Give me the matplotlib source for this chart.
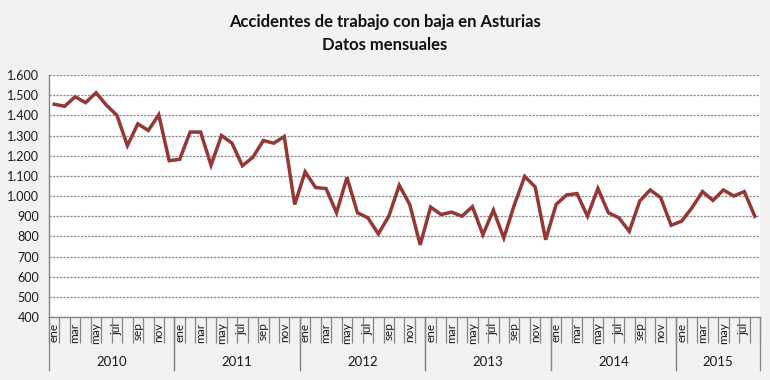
import matplotlib
matplotlib.use("Agg")
import matplotlib.pyplot as plt
import matplotlib.transforms as mtransforms
from matplotlib.ticker import FixedLocator, FuncFormatter
import numpy as np

# monthly values, ene 2010 .. ago 2015
years = ["2010", "2011", "2012", "2013", "2014", "2015"]
month_names = ["ene", "feb", "mar", "abr", "may", "jun",
               "jul", "ago", "sep", "oct", "nov", "dic"]
months_per_year = [12, 12, 12, 12, 12, 8]

v2010 = [1455, 1445, 1492, 1463, 1512, 1450, 1400, 1250, 1358, 1325, 1403, 1175]
v2011 = [1182, 1317, 1317, 1153, 1300, 1262, 1150, 1192, 1275, 1262, 1295, 958]
v2012 = [1120, 1042, 1037, 917, 1092, 917, 892, 812, 900, 1053, 958, 758]
v2013 = [945, 908, 920, 900, 947, 808, 930, 792, 955, 1097, 1045, 783]
v2014 = [958, 1005, 1012, 900, 1037, 917, 892, 825, 975, 1030, 992, 855]
v2015 = [875, 942, 1022, 978, 1030, 1000, 1022, 900]

values = v2010 + v2011 + v2012 + v2013 + v2014 + v2015
labels = []
for n in months_per_year:
    labels += month_names[:n]

line_color = "#953735"
axis_color = "#868686"
text_color = "#1a1a1a"
plt.rcParams["font.family"] = ["Lato", "DejaVu Sans"]

fig = plt.figure(figsize=(7.7, 3.8), dpi=100)
fig.patch.set_facecolor("#f2f2f2")
ax = fig.add_axes([0.0636, 0.1658, 0.9234, 0.6368])
ax.set_facecolor("white")

x = np.arange(len(values))
ax.plot(x, values, color=line_color, linewidth=2.5, solid_joinstyle="miter", zorder=3)

ax.set_xlim(-0.5, len(values) - 0.5)
ax.set_ylim(400, 1600)
ax.set_yticks(np.arange(400, 1601, 100))
ax.yaxis.set_major_formatter(FuncFormatter(lambda v, p: f"{int(v):,}".replace(",", ".")))
ax.tick_params(axis="y", length=0, pad=7, labelsize=9, labelcolor=text_color)
ax.grid(axis="y", color="#8c8c8c", linestyle=(0, (1.8, 1.0)), linewidth=0.9)
ax.set_axisbelow(True)

for side in ["top", "right"]:
    ax.spines[side].set_visible(False)
for side in ["left", "bottom"]:
    ax.spines[side].set_color(axis_color)
    ax.spines[side].set_linewidth(1.0)

# month boundaries as ticks, labels every other month
ax.xaxis.set_minor_locator(FixedLocator(np.arange(len(values) + 1) - 0.5))
ax.tick_params(axis="x", which="minor", length=19, width=0.9, color=axis_color)
ax.set_xticks(x[::2])
ax.set_xticklabels(labels[::2], rotation=90, fontsize=8.5, color=text_color)
ax.tick_params(axis="x", which="major", length=0, pad=4)

# year separators and year labels
trans = mtransforms.blended_transform_factory(ax.transData, ax.transAxes)
start = 0
for yr, n in zip(years, months_per_year):
    for b in (start - 0.5, start + n - 0.5):
        ax.plot([b, b], [0, -0.22], color=axis_color, linewidth=0.9,
                transform=trans, clip_on=False)
    ax.text(start + (n - 1) / 2, -0.185, yr, transform=trans, ha="center",
            va="center", fontsize=9.5, color=text_color)
    start += n

fig.text(0.5, 0.942, "Accidentes de trabajo con baja en Asturias", ha="center",
         va="center", fontsize=12, fontweight="bold", color="#111111")
fig.text(0.5, 0.882, "Datos mensuales", ha="center", va="center",
         fontsize=12, fontweight="bold", color="#111111")

fig.savefig("out.png", dpi=100, facecolor=fig.get_facecolor())
